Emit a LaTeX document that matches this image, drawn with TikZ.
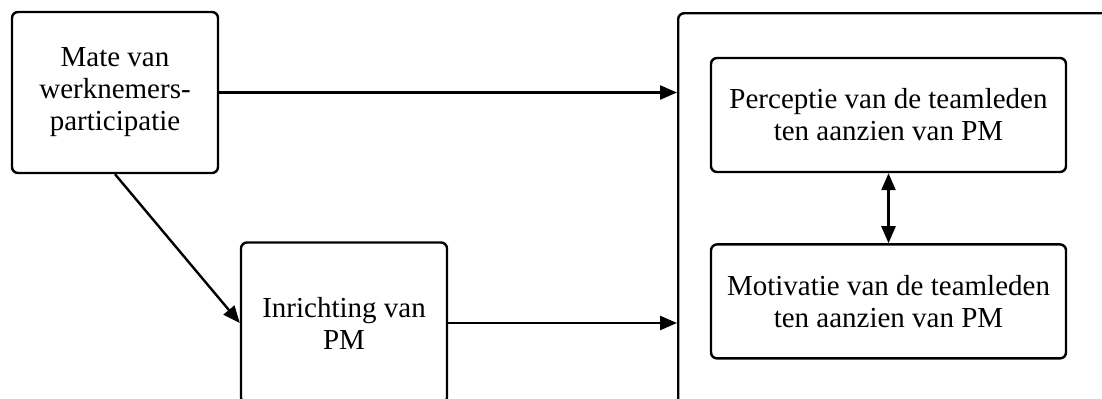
\documentclass[tikz,border=0pt]{standalone}
\usepackage{fontspec}
\setmainfont{Liberation Serif}
\usepackage{tikz}
\newcommand{\boxwidth}{103pt}
\newcommand{\boxheight}{80.5pt}
\usetikzlibrary{arrows.meta,positioning}
\tikzset{
  >={Triangle[length=8.5pt,width=7pt]},
  font=\fontsize{14.5}{16}\selectfont,
  rect/.style={draw,shape=rectangle,rounded corners=3pt,line width=1.2pt,minimum width=\boxwidth,minimum height=\boxheight,align=center,inner sep=1mm},
  widerect/.style={rect,minimum width=177.5pt,minimum height=57pt},
  line/.style={draw,->,line width=1.2pt}
}
\begin{document}
\begin{tikzpicture}[x=0.5pt,y=-0.5pt]
    \clip (0,0) rectangle (1102,398);
    \node (mate) [rect] at (115,92.5) {Mate van\\werknemers-\\participatie};
    \node (inrichting) [rect] at (344,323) {Inrichting van\\PM};
    \node (effect) [rect,minimum width=220pt,minimum height=205pt,anchor=north west] at (677,12) {};

    \node (perceptie) [widerect] at (888.5,115) {Perceptie van de teamleden\\ten aanzien van PM};
    \node (motivatie) [widerect,below=35pt of perceptie] {Motivatie van de teamleden\\ten aanzien van PM};

    \path [line] (mate.east) -- (mate.east -| effect.west);
    \path [line] (mate.south) -- (inrichting.west);
    \path [line] (inrichting.east) -- (inrichting.east -| effect.west);
    \path [line,<->] (perceptie) -- (motivatie);
\end{tikzpicture}
\end{document}
